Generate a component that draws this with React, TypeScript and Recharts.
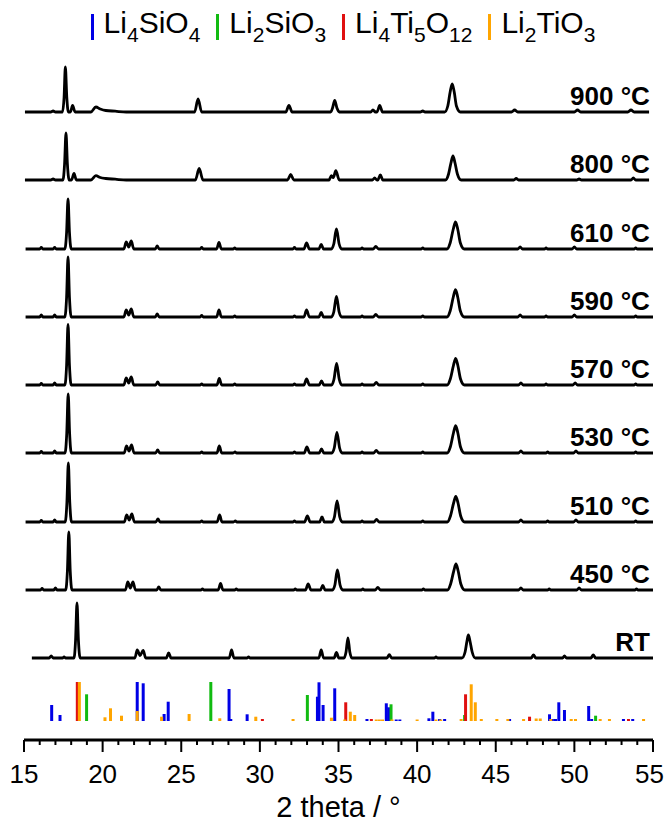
import React from 'react';
import { LineChart, Line, XAxis, YAxis, ReferenceLine, ReferenceDot, Legend } from 'recharts';

type Pt = [number, number];

// sample names, top to bottom, and the vertical offset of each pattern (intensity units)
const sampleLabels = ['900 °C', '800 °C', '610 °C', '590 °C', '570 °C', '530 °C', '510 °C', '450 °C', 'RT'];
const sampleOffsets = [628, 560, 491, 423, 355, 287, 218, 150, 82];

// [2 theta, intensity]
const xrd900: Pt[] = [
  [15.06, 0], [16.7, 0], [16.85, 1], [17.0, 0], [17.45, 0], [17.55, 15], [17.63, 45], [17.72, 15], [17.82, 0],
  [17.95, 0], [18.09, 6.5], [18.25, 0], [19.25, 0], [19.57, 5], [19.85, 3], [20.2, 1.5], [20.8, 0.8], [21.5, 0],
  [25.85, 0], [26.07, 13], [26.3, 0], [31.65, 0], [31.85, 6.5], [32.05, 0], [34.5, 0], [34.62, 4], [34.76, 11.5], [34.9, 4], [35.05, 0],
  [37.05, 0], [37.19, 2], [37.35, 0], [37.45, 0], [37.62, 6.5], [37.8, 0], [40.2, 0], [40.36, 1], [40.5, 0],
  [41.75, 0], [41.95, 6], [42.1, 20], [42.23, 28], [42.36, 20], [42.5, 6], [42.75, 0],
  [46.0, 0], [46.2, 2], [46.4, 0], [50.0, 0], [50.2, 2], [50.4, 0], [53.4, 0], [53.6, 2], [53.8, 0], [54.75, 0],
];
const xrd800: Pt[] = [
  [15.06, 0], [16.7, 0], [16.85, 1], [17.0, 0], [17.48, 0], [17.58, 16], [17.67, 47], [17.76, 16], [17.87, 0],
  [18.02, 0], [18.18, 6.5], [18.33, 0], [19.25, 0], [19.57, 4.3], [19.85, 2.5], [20.2, 1.5], [20.8, 0.8], [21.5, 0],
  [25.9, 0], [26.14, 11.5], [26.38, 0], [31.76, 0], [31.96, 5.5], [32.16, 0],
  [34.4, 0], [34.55, 4.3], [34.67, 2.5], [34.83, 9.3], [35.05, 0], [37.15, 0], [37.3, 2], [37.45, 0], [37.5, 0], [37.66, 5], [37.82, 0],
  [41.8, 0], [42.0, 6], [42.15, 17], [42.28, 24], [42.41, 17], [42.56, 6], [42.8, 0],
  [46.15, 0], [46.3, 1.5], [46.45, 0], [50.15, 0], [50.3, 1], [50.45, 0], [53.6, 0], [53.75, 2], [53.9, 0], [54.75, 0],
];
const xrd610: Pt[] = [
  [15.1, 0], [16.0, 0], [16.1, 1.5], [16.2, 0], [16.85, 0], [16.95, 1.5], [17.05, 0], [17.6, 0], [17.71, 17], [17.8, 50], [17.89, 17], [18.0, 0],
  [21.35, 0], [21.5, 7], [21.66, 2], [21.82, 8], [21.98, 0], [23.35, 0], [23.47, 3], [23.6, 0], [26.2, 0], [26.3, 1.5], [26.4, 0],
  [27.25, 0], [27.4, 6.5], [27.55, 0], [28.3, 0], [28.4, 1], [28.5, 0], [32.1, 0], [32.2, 1.5], [32.3, 0],
  [32.8, 0], [32.97, 6], [33.15, 0], [33.75, 0], [33.9, 4.5], [34.05, 0], [34.55, 0], [34.7, 5], [34.87, 20], [35.04, 5], [35.2, 0],
  [36.4, 0], [36.5, 1], [36.6, 0], [37.2, 0], [37.37, 2.5], [37.55, 0], [40.25, 0], [40.36, 1], [40.47, 0],
  [41.9, 0], [42.1, 6], [42.3, 20], [42.44, 27], [42.58, 20], [42.75, 6], [43.0, 0],
  [46.4, 0], [46.55, 2], [46.7, 0], [48.1, 0], [48.2, 1], [48.3, 0], [49.85, 0], [50.0, 2], [50.15, 0], [53.8, 0], [53.9, 1], [54.0, 0], [55, 0],
];
const xrd590: Pt[] = [
  [15.1, 0], [16.0, 0], [16.1, 2], [16.2, 0], [16.85, 0], [16.95, 2], [17.05, 0], [17.6, 0], [17.71, 20], [17.8, 60], [17.89, 20], [18.0, 0],
  [21.35, 0], [21.5, 7], [21.66, 2], [21.82, 8], [21.98, 0], [23.35, 0], [23.47, 3], [23.6, 0], [26.2, 0], [26.3, 1.5], [26.4, 0],
  [27.25, 0], [27.4, 7], [27.55, 0], [28.3, 0], [28.4, 1], [28.5, 0], [32.1, 0], [32.2, 1], [32.3, 0],
  [32.8, 0], [32.97, 7], [33.15, 0], [33.75, 0], [33.9, 4.5], [34.05, 0], [34.55, 0], [34.7, 5], [34.87, 20.5], [35.04, 5], [35.2, 0],
  [36.4, 0], [36.5, 1], [36.6, 0], [37.2, 0], [37.37, 2.5], [37.55, 0], [40.25, 0], [40.36, 1], [40.47, 0],
  [41.9, 0], [42.1, 6], [42.3, 20], [42.44, 27.3], [42.58, 20], [42.75, 6], [43.0, 0],
  [46.4, 0], [46.55, 2], [46.7, 0], [48.1, 0], [48.2, 1], [48.3, 0], [49.85, 0], [50.0, 2], [50.15, 0], [53.8, 0], [53.9, 1], [54.0, 0], [55, 0],
];
const xrd570: Pt[] = [
  [15.1, 0], [16.0, 0], [16.1, 1.5], [16.2, 0], [16.85, 0], [16.95, 2], [17.05, 0], [17.6, 0], [17.71, 20], [17.8, 60.5], [17.89, 20], [18.0, 0],
  [21.35, 0], [21.5, 7], [21.66, 2], [21.82, 8], [21.98, 0], [23.37, 0], [23.5, 3], [23.63, 0], [26.2, 0], [26.3, 1], [26.4, 0],
  [27.27, 0], [27.42, 6.5], [27.57, 0], [28.3, 0], [28.4, 1], [28.5, 0], [32.1, 0], [32.2, 1], [32.3, 0],
  [32.8, 0], [32.97, 6], [33.15, 0], [33.77, 0], [33.92, 4], [34.07, 0], [34.56, 0], [34.71, 5.5], [34.88, 21.5], [35.05, 5.5], [35.21, 0],
  [36.4, 0], [36.5, 1], [36.6, 0], [37.23, 0], [37.4, 2.5], [37.57, 0], [40.25, 0], [40.36, 1], [40.47, 0],
  [41.91, 0], [42.11, 6], [42.31, 19.5], [42.45, 26.7], [42.59, 19.5], [42.76, 6], [43.01, 0],
  [46.45, 0], [46.6, 2], [46.75, 0], [48.1, 0], [48.2, 1], [48.3, 0], [49.9, 0], [50.05, 2], [50.2, 0], [53.8, 0], [53.9, 1], [54.0, 0], [55, 0],
];
const xrd530: Pt[] = [
  [15.1, 0], [16.0, 0], [16.1, 1.5], [16.2, 0], [16.85, 0], [16.95, 2], [17.05, 0], [17.61, 0], [17.72, 20], [17.81, 59], [17.9, 20], [18.01, 0],
  [21.37, 0], [21.52, 7], [21.68, 2], [21.84, 8], [22.0, 0], [23.37, 0], [23.5, 3], [23.63, 0], [26.2, 0], [26.3, 1], [26.4, 0],
  [27.27, 0], [27.42, 7], [27.57, 0], [28.3, 0], [28.42, 1], [28.52, 0], [32.1, 0], [32.2, 1], [32.3, 0],
  [32.82, 0], [32.99, 6], [33.17, 0], [33.77, 0], [33.92, 4], [34.07, 0], [34.58, 0], [34.73, 5], [34.9, 20.7], [35.07, 5], [35.23, 0],
  [36.4, 0], [36.5, 1], [36.6, 0], [37.23, 0], [37.4, 2.5], [37.57, 0], [40.25, 0], [40.36, 1], [40.47, 0],
  [41.91, 0], [42.11, 6], [42.31, 20], [42.45, 27.3], [42.59, 20], [42.76, 6], [43.01, 0],
  [46.45, 0], [46.6, 2], [46.75, 0], [48.2, 0], [48.3, 1], [48.4, 0], [49.95, 0], [50.1, 2], [50.25, 0], [53.8, 0], [53.9, 1], [54.0, 0], [55, 0],
];
const xrd510: Pt[] = [
  [15.1, 0], [16.0, 0], [16.1, 1.5], [16.2, 0], [16.85, 0], [16.95, 2], [17.05, 0], [17.62, 0], [17.73, 20], [17.82, 59], [17.91, 20], [18.02, 0],
  [21.38, 0], [21.53, 7], [21.69, 2], [21.86, 8], [22.02, 0], [23.38, 0], [23.52, 3], [23.65, 0], [26.2, 0], [26.3, 1], [26.4, 0],
  [27.28, 0], [27.44, 7], [27.59, 0], [28.32, 0], [28.44, 1], [28.54, 0], [32.1, 0], [32.2, 1], [32.3, 0],
  [32.84, 0], [33.02, 6], [33.2, 0], [33.8, 0], [33.95, 5], [34.1, 0], [34.59, 0], [34.74, 5], [34.91, 21], [35.08, 5], [35.24, 0],
  [36.4, 0], [36.5, 1], [36.6, 0], [37.25, 0], [37.42, 2.5], [37.59, 0], [40.25, 0], [40.36, 1], [40.47, 0],
  [41.92, 0], [42.12, 6], [42.32, 19], [42.46, 25.7], [42.6, 19], [42.77, 6], [43.02, 0],
  [46.45, 0], [46.6, 2], [46.75, 0], [48.2, 0], [48.3, 1], [48.4, 0], [49.95, 0], [50.1, 2], [50.25, 0], [53.8, 0], [53.9, 1], [54.0, 0], [55, 0],
];
const xrd450: Pt[] = [
  [15.1, 0], [16.05, 0], [16.15, 1.5], [16.25, 0], [16.9, 0], [17.0, 2], [17.1, 0], [17.65, 0], [17.76, 19], [17.85, 58], [17.94, 19], [18.05, 0],
  [21.45, 0], [21.6, 8], [21.76, 2], [21.93, 8], [22.09, 0], [23.44, 0], [23.57, 3], [23.7, 0], [26.25, 0], [26.35, 1], [26.45, 0],
  [27.35, 0], [27.5, 6.5], [27.65, 0], [28.4, 0], [28.5, 1], [28.6, 0], [32.15, 0], [32.25, 1], [32.35, 0],
  [32.9, 0], [33.07, 6], [33.25, 0], [33.85, 0], [34.0, 4.5], [34.15, 0], [34.62, 0], [34.77, 5], [34.93, 20], [35.1, 5], [35.27, 0],
  [36.45, 0], [36.55, 1], [36.65, 0], [37.33, 0], [37.5, 2.5], [37.67, 0], [40.3, 0], [40.4, 1], [40.5, 0],
  [41.93, 0], [42.13, 6], [42.33, 19], [42.47, 26], [42.61, 19], [42.78, 6], [43.03, 0],
  [46.45, 0], [46.6, 2], [46.75, 0], [48.3, 0], [48.4, 1], [48.5, 0], [50.15, 0], [50.3, 2], [50.45, 0], [53.85, 0], [53.95, 1], [54.05, 0], [55, 0],
];
const xrdRT: Pt[] = [
  [15.5, 0], [16.6, 0], [16.73, 2], [16.86, 0], [17.45, 0], [17.55, 1], [17.65, 0], [18.18, 0], [18.28, 18], [18.37, 55], [18.46, 18], [18.57, 0],
  [22.05, 0], [22.2, 8], [22.38, 2.5], [22.58, 7.5], [22.74, 0], [24.05, 0], [24.2, 5], [24.35, 0], [28.05, 0], [28.2, 8], [28.35, 0],
  [29.18, 0], [29.28, 1], [29.38, 0], [33.75, 0], [33.9, 8], [34.05, 0], [34.72, 0], [34.87, 5.5], [35.02, 0],
  [35.35, 0], [35.48, 6], [35.6, 20], [35.72, 6], [35.85, 0], [38.08, 0], [38.23, 3.3], [38.38, 0], [41.1, 0], [41.2, 1], [41.3, 0],
  [42.85, 0], [43.05, 6], [43.17, 17], [43.26, 23], [43.36, 17], [43.5, 6], [43.7, 0],
  [47.25, 0], [47.4, 3], [47.55, 0], [49.25, 0], [49.37, 2], [49.5, 0], [51.05, 0], [51.2, 3], [51.35, 0], [55, 0],
];
const patterns = [xrd900, xrd800, xrd610, xrd590, xrd570, xrd530, xrd510, xrd450, xrdRT];

// reference patterns: [2 theta, relative height]
const stickBase = 19;
const li4sio4Sticks: Pt[] = [
  [16.76, 16], [17.29, 6], [22.2, 39], [22.58, 37.7], [23.91, 7], [24.17, 19.3], [28.04, 32], [28.15, 2], [29.19, 6.7],
  [33.66, 24.3], [33.76, 38.7], [34.02, 16], [34.76, 32.7], [36.81, 2], [38.04, 17.7], [38.19, 13.7], [38.67, 1.5], [38.9, 1.5],
  [40.75, 2.7], [41.0, 9.3], [41.43, 2], [41.75, 2], [45.88, 2], [48.42, 6.7], [48.6, 2], [48.8, 2], [49.01, 18.7], [49.37, 11],
  [50.91, 15], [51.1, 2], [53.12, 2], [53.71, 2],
];
const li2sio3Sticks: Pt[] = [[18.98, 26.7], [26.88, 39], [33.02, 26], [38.34, 16.7], [43.02, 6], [51.35, 5.3]];
const li4ti5o12Sticks: Pt[] = [[18.39, 39], [30.16, 2], [35.46, 18.7], [37.09, 2], [43.08, 26.7], [47.15, 4.3], [53.44, 2]];
const li2tio3Sticks: Pt[] = [
  [18.52, 39], [20.15, 3.7], [20.5, 12.7], [21.2, 5.3], [22.2, 10], [23.75, 4.3], [25.5, 7], [27.45, 2.7], [29.74, 4.3], [32.11, 2],
  [34.55, 3.3], [35.4, 1.5], [35.75, 9.3], [36.03, 6], [37.4, 1.5], [37.6, 1.5], [37.8, 1.5], [38.4, 1.5], [40.0, 1.5], [41.2, 1.5],
  [41.5, 1.5], [42.8, 2], [43.44, 36.7], [43.7, 18.7], [44.08, 2], [45.07, 2], [45.77, 2], [46.77, 2], [47.57, 2.5], [47.83, 2.5],
  [48.5, 2], [49.8, 2], [50.07, 2], [51.64, 2], [52.23, 2], [54.4, 2],
];

// legend names split into normal / subscript parts
const phaseNames = [['Li', '4', 'SiO', '4'], ['Li', '2', 'SiO', '3'], ['Li', '4', 'Ti', '5', 'O', '12'], ['Li', '2', 'TiO', '3']];
const phaseColors = ['#0000E6', '#11BB11', '#E01010', '#FFA500'];
const phaseSticks = [li4sio4Sticks, li2sio3Sticks, li4ti5o12Sticks, li2tio3Sticks];

const xTicks = [15, 16, 17, 18, 19, 20, 21, 22, 23, 24, 25, 26, 27, 28, 29, 30, 31, 32, 33, 34, 35,
  36, 37, 38, 39, 40, 41, 42, 43, 44, 45, 46, 47, 48, 49, 50, 51, 52, 53, 54, 55];
const majorTicks = [15, 20, 25, 30, 35, 40, 45, 50, 55];

const FONT = '"Liberation Sans", Arial, Helvetica, sans-serif';

const XTick = (props: any) => {
  const { x, y, payload } = props;
  const major = majorTicks.includes(payload.value);
  const last = payload.value === 55;
  return (
    <g>
      <line x1={x} x2={x} y1={y} y2={y + (major ? 12 : 5)} stroke="#000" strokeWidth={2} />
      {major && (
        <text x={last ? x + 11 : x} y={y + 43} textAnchor={last ? 'end' : 'middle'} fontSize={26} fill="#000">
          {payload.value}
        </text>
      )}
    </g>
  );
};

const renderLegend = () => (
  <div style={{ height: 52, display: 'flex', justifyContent: 'center', paddingLeft: 20, fontSize: 30, lineHeight: '46px', color: '#000' }}>
    {phaseNames.map((parts, i) => (
      <div key={i} style={{ display: 'flex', alignItems: 'flex-start', marginRight: i < 3 ? 16 : 0 }}>
        <span style={{ display: 'inline-block', width: 3, height: 26, marginTop: 14, marginRight: 10, background: phaseColors[i] }} />
        <span style={{ whiteSpace: 'nowrap' }}>
          {parts.map((p, j) =>
            j % 2 === 0 ? <span key={j}>{p}</span> : <span key={j} style={{ fontSize: 21, verticalAlign: -9 }}>{p}</span>
          )}
        </span>
      </div>
    ))}
  </div>
);

const sampleLabel = (text: string) => (props: any) => {
  const vb = props.viewBox;
  return (
    <text x={vb.x + vb.width / 2} y={vb.y + vb.height / 2} textAnchor="end" fontSize={26} fontWeight="bold" fill="#000">
      {text}
    </text>
  );
};

export default function App() {
  return (
    <div style={{ position: 'absolute', left: 0, top: 0, width: 666, height: 825, background: '#fff', fontFamily: FONT }}>
      <LineChart width={666} height={825} margin={{ top: 8, right: 13, left: 24, bottom: 0 }}>
        <Legend verticalAlign="top" align="center" content={renderLegend} wrapperStyle={{ top: 0, left: 0, width: 666 }} />
        <XAxis
          dataKey="t"
          type="number"
          domain={[15, 55]}
          ticks={xTicks}
          interval={0}
          allowDataOverflow
          height={85}
          tickSize={0}
          tickMargin={0}
          tickLine={false}
          axisLine={{ stroke: '#000', strokeWidth: 3 }}
          tick={<XTick />}
          label={{ value: '2 theta / °', position: 'insideBottom', offset: 8, fontSize: 29, fill: '#000' }}
        />
        <YAxis hide type="number" domain={[0, 680]} allowDataOverflow />
        {patterns.map((pts, i) => (
          <Line
            key={sampleLabels[i]}
            data={pts.map(([t, v]) => ({ t, v: v + sampleOffsets[i] }))}
            dataKey="v"
            type="monotone"
            stroke="#000"
            strokeWidth={2.8}
            dot={false}
            activeDot={false}
            isAnimationActive={false}
          />
        ))}
        {sampleLabels.map((name, i) => (
          <ReferenceDot key={name} x={54.8} y={sampleOffsets[i] + 7} r={1} fill="none" stroke="none" label={sampleLabel(name)} />
        ))}
        {phaseSticks.map((sticks, i) =>
          sticks.map(([t, h]) => (
            <ReferenceLine
              key={`${i}-${t}`}
              segment={[{ x: t, y: stickBase }, { x: t, y: stickBase + h }]}
              stroke={phaseColors[i]}
              strokeWidth={3}
            />
          ))
        )}
      </LineChart>
    </div>
  );
}
